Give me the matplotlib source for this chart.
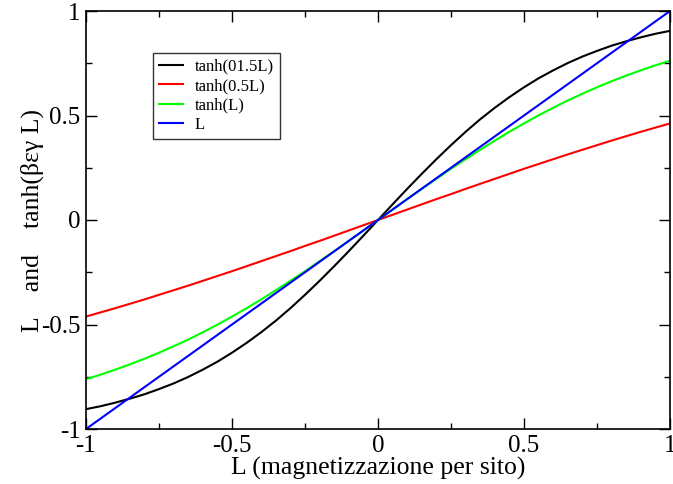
import matplotlib
matplotlib.use("Agg")
import matplotlib.pyplot as plt
from matplotlib.ticker import MultipleLocator

# valori (passo 0.05 su L)
L_vals = [-1.0, -0.95, -0.9, -0.85, -0.8, -0.75, -0.7, -0.65, -0.6, -0.55, -0.5,
          -0.45, -0.4, -0.35, -0.3, -0.25, -0.2, -0.15, -0.1, -0.05, 0.0,
          0.05, 0.1, 0.15, 0.2, 0.25, 0.3, 0.35, 0.4, 0.45, 0.5,
          0.55, 0.6, 0.65, 0.7, 0.75, 0.8, 0.85, 0.9, 0.95, 1.0]

tanh_15 = [-0.905, -0.891, -0.874, -0.855, -0.834, -0.809, -0.782, -0.751, -0.716, -0.678, -0.635,
           -0.588, -0.537, -0.482, -0.422, -0.358, -0.291, -0.221, -0.149, -0.075, 0.0,
           0.075, 0.149, 0.221, 0.291, 0.358, 0.422, 0.482, 0.537, 0.588, 0.635,
           0.678, 0.716, 0.751, 0.782, 0.809, 0.834, 0.855, 0.874, 0.891, 0.905]

tanh_05 = [-0.462, -0.442, -0.422, -0.401, -0.380, -0.358, -0.336, -0.314, -0.291, -0.268, -0.245,
           -0.221, -0.197, -0.173, -0.149, -0.124, -0.100, -0.075, -0.050, -0.025, 0.0,
           0.025, 0.050, 0.075, 0.100, 0.124, 0.149, 0.173, 0.197, 0.221, 0.245,
           0.268, 0.291, 0.314, 0.336, 0.358, 0.380, 0.401, 0.422, 0.442, 0.462]

tanh_1 = [-0.762, -0.740, -0.716, -0.691, -0.664, -0.635, -0.604, -0.572, -0.537, -0.501, -0.462,
          -0.422, -0.380, -0.336, -0.291, -0.245, -0.197, -0.149, -0.100, -0.050, 0.0,
          0.050, 0.100, 0.149, 0.197, 0.245, 0.291, 0.336, 0.380, 0.422, 0.462,
          0.501, 0.537, 0.572, 0.604, 0.635, 0.664, 0.691, 0.716, 0.740, 0.762]

# retta L = L
line_x = [-1.0, 1.0]
line_y = [-1.0, 1.0]

series = [
    ("tanh(01.5L)", L_vals, tanh_15, "black"),
    ("tanh(0.5L)", L_vals, tanh_05, "#ff0000"),
    ("tanh(L)", L_vals, tanh_1, "#00ff00"),
    ("L", line_x, line_y, "#0000ff"),
]

plt.rcParams["font.family"] = ["Liberation Serif", "DejaVu Serif"]

fig = plt.figure(figsize=(6.73, 4.84), dpi=100)
ax = fig.add_axes([86 / 673, 1 - 429 / 484, 584 / 673, 418 / 484])

for label, xs, ys, col in series:
    ax.plot(xs, ys, color=col, linewidth=1.5, label=label)

ax.set_xlim(-1, 1)
ax.set_ylim(-1, 1)
ax.xaxis.set_major_locator(MultipleLocator(0.5))
ax.xaxis.set_minor_locator(MultipleLocator(0.25))
ax.yaxis.set_major_locator(MultipleLocator(0.5))
ax.yaxis.set_minor_locator(MultipleLocator(0.25))
ax.xaxis.set_major_formatter(plt.FuncFormatter(lambda v, p: f"{v:g}"))
ax.yaxis.set_major_formatter(plt.FuncFormatter(lambda v, p: f"{v:g}"))

ax.tick_params(which="both", direction="in", top=True, right=True, labelsize=18, width=1)
ax.tick_params(which="major", length=8, pad=4)
ax.tick_params(which="minor", length=4.3)
for sp in ax.spines.values():
    sp.set_linewidth(1.2)

ax.set_xlabel("L (magnetizzazione per sito)", fontsize=18.5, labelpad=0)
ax.set_ylabel("L    and    tanh(βεγ L)", fontsize=18.5, labelpad=-2)

leg = ax.legend(loc="upper left", bbox_to_anchor=(67 / 584, 1 - 42 / 418), fontsize=12,
                frameon=True, fancybox=False, handlelength=1.45, borderpad=0.35,
                labelspacing=0.2, handletextpad=0.7, borderaxespad=0)
leg.get_frame().set_edgecolor("black")
leg.get_frame().set_linewidth(1.0)

fig.savefig("out.png", dpi=100)
